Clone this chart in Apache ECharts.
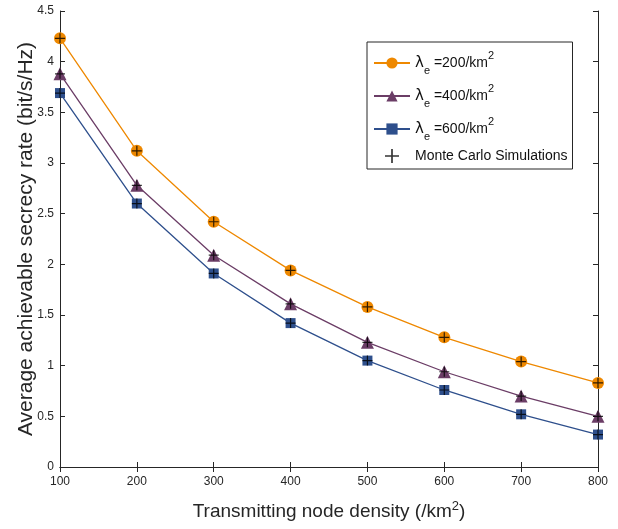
<!DOCTYPE html>
<html><head><meta charset="utf-8">
<script src="https://cdn.jsdelivr.net/npm/echarts@6/dist/echarts.min.js"></script>
<style>html,body{margin:0;padding:0;background:#fff}#c{width:618px;height:529px}</style>
</head><body><div id="c"></div>
<script>
const densities = [100, 200, 300, 400, 500, 600, 700, 800];
const rate200 = [4.23, 3.12, 2.42, 1.94, 1.58, 1.28, 1.04, 0.83];
const rate400 = [3.88, 2.78, 2.09, 1.61, 1.23, 0.94, 0.70, 0.50];
const rate600 = [3.69, 2.60, 1.91, 1.42, 1.05, 0.76, 0.52, 0.32];
const mc200 = [4.23, 3.12, 2.42, 1.94, 1.58, 1.28, 1.04, 0.83];
const mc400 = [3.88, 2.78, 2.09, 1.61, 1.23, 0.94, 0.70, 0.50];
const mc600 = [3.69, 2.60, 1.91, 1.42, 1.05, 0.76, 0.52, 0.32];
const legendNames = ['λe=200', 'λe=400', 'λe=600', 'Monte Carlo Simulations'];
const yTicks = [0, 0.5, 1, 1.5, 2, 2.5, 3, 3.5, 4, 4.5];

const FONT = 'Liberation Sans, Arial, sans-serif';
const TXT = '#262626';
const C1 = '#EE8800', C2 = '#6B3D66', C3 = '#2E4F8C';
const PLUS = 'path://M4.4,0h1.2v4.4h4.4v1.2h-4.4v4.4h-1.2v-4.4h-4.4v-1.2h4.4z';

function pts(arr) { return densities.map((d, i) => [d, arr[i]]); }

const chart = echarts.init(document.getElementById('c'));
const axCommon = {
  axisLine: { show: true, lineStyle: { color: TXT, width: 1 } },
  axisTick: { show: true, inside: true, length: 5, lineStyle: { color: TXT } },
  splitLine: { show: false },
  nameMoveOverlap: false
};
chart.setOption({
  animation: false,
  backgroundColor: '#fff',
  textStyle: { fontFamily: FONT },
  grid: { left: 60, right: 20, top: 11, bottom: 62, containLabel: false, outerBoundsMode: 'none' },
  legend: {
    orient: 'vertical', left: 367, top: 42,
    backgroundColor: '#fff', borderColor: '#262626', borderWidth: 1,
    padding: [8, 5, 6, 6], itemGap: 7, itemWidth: 36, itemHeight: 14,
    data: legendNames,
    formatter: function (n) {
      if (n.indexOf('λe=') === 0) {
        return '{l|λ}{s|e}{t| =' + n.slice(3) + '/km}{p|2}';
      }
      return '{m|' + n + '}';
    },
    textStyle: {
      color: '#111', fontFamily: FONT, fontSize: 14,
      rich: {
        l: { fontSize: 15, fontFamily: 'DejaVu Sans', color: '#111', lineHeight: 26, verticalAlign: 'middle' },
        s: { fontSize: 11, color: '#111', lineHeight: 8, verticalAlign: 'bottom' },
        t: { fontSize: 14, color: '#111', lineHeight: 26, verticalAlign: 'middle' },
        p: { fontSize: 11, color: '#111', lineHeight: 16, verticalAlign: 'top' },
        m: { fontSize: 14, color: '#111', lineHeight: 20 }
      }
    }
  },
  xAxis: [
    Object.assign({
      type: 'value', min: 100, max: 800, interval: 100, position: 'bottom',
      axisLabel: { color: TXT, fontSize: 12, margin: 9, fontFamily: FONT },
      name: '{a|Transmitting node density (/km}{b|2}{a|)}',
      nameLocation: 'middle', nameGap: 33,
      nameTextStyle: {
        rich: {
          a: { fontSize: 19, color: TXT, fontFamily: FONT, lineHeight: 24, verticalAlign: 'middle' },
          b: { fontSize: 13, color: TXT, fontFamily: FONT, lineHeight: 14, verticalAlign: 'top' }
        }
      }
    }, axCommon),
    Object.assign({
      type: 'value', min: 100, max: 800, interval: 100, position: 'top',
      axisLabel: { show: false }
    }, axCommon)
  ],
  yAxis: [
    Object.assign({
      type: 'value', min: 0, max: 4.5, interval: 0.5, position: 'left',
      axisLabel: { color: TXT, fontSize: 12, margin: 6, fontFamily: FONT,
        formatter: v => String(yTicks.find(t => Math.abs(t - v) < 1e-9) ?? v) },
      name: 'Average achievable secrecy rate (bit/s/Hz)',
      nameLocation: 'middle', nameGap: 23, nameRotate: 90,
      nameTextStyle: { fontSize: 21, color: TXT, fontFamily: FONT }
    }, axCommon),
    Object.assign({
      type: 'value', min: 0, max: 4.5, interval: 0.5, position: 'right',
      axisLabel: { show: false }
    }, axCommon)
  ],
  series: [
    { name: legendNames[0], type: 'line', data: pts(rate200), symbol: 'circle', symbolSize: 12,
      lineStyle: { color: C1, width: 1.3 }, itemStyle: { color: C1 }, z: 2 },
    { name: legendNames[1], type: 'line', data: pts(rate400), symbol: 'triangle', symbolSize: 13,
      lineStyle: { color: C2, width: 1.3 }, itemStyle: { color: C2 }, z: 2 },
    { name: legendNames[2], type: 'line', data: pts(rate600), symbol: 'rect', symbolSize: 10,
      lineStyle: { color: C3, width: 1.3 }, itemStyle: { color: C3 }, z: 2 },
    { name: legendNames[3], type: 'scatter', data: pts(mc200), symbol: PLUS, symbolSize: 10,
      itemStyle: { color: '#000' }, z: 3 },
    { name: legendNames[3], type: 'scatter', data: pts(mc400), symbol: PLUS, symbolSize: 10,
      itemStyle: { color: '#000' }, z: 3 },
    { name: legendNames[3], type: 'scatter', data: pts(mc600), symbol: PLUS, symbolSize: 10,
      itemStyle: { color: '#000' }, z: 3 }
  ]
});
</script></body></html>
